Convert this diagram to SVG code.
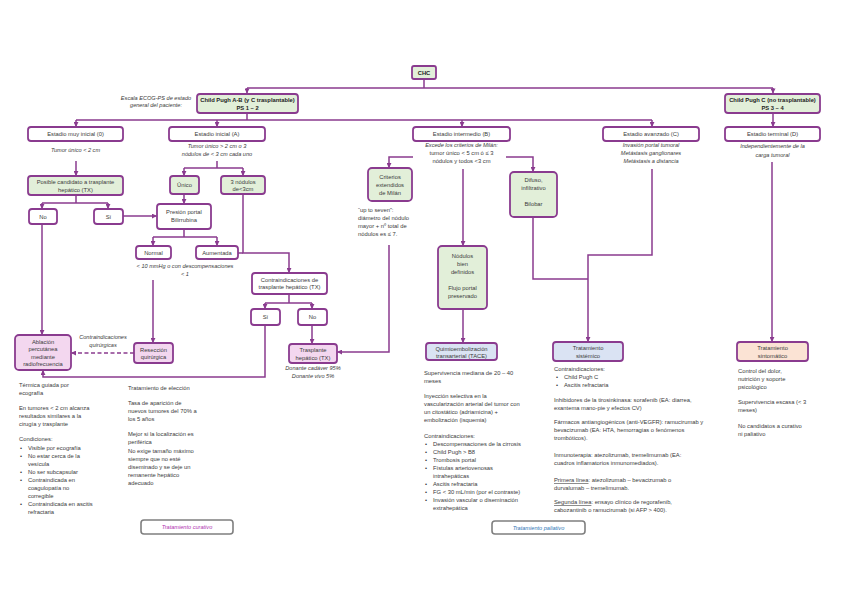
<svg xmlns="http://www.w3.org/2000/svg" width="848" height="599" viewBox="0 0 848 599">
<style>
text{font-family:"Liberation Sans",Arial,sans-serif;fill:#3a3a3a;}
.b{fill:#fff;stroke:#8a3b8f;stroke-width:1.8;}
.g{fill:#e2efd9;stroke:#8a3b8f;stroke-width:1.8;}
.p{fill:#f3d7ef;stroke:#8a3b8f;stroke-width:1.8;}
.bl{fill:#dae3f3;stroke:#8a3b8f;stroke-width:1.8;}
.o{fill:#fbe3d4;stroke:#8a3b8f;stroke-width:1.8;}
.t{font-size:5.8px;text-anchor:middle;}
.tb{font-size:5.8px;text-anchor:middle;font-weight:bold;fill:#222;}
.i{font-size:5.6px;text-anchor:middle;font-style:italic;}
.x{font-size:5.8px;}
.c{fill:none;stroke:#8a3b8f;stroke-width:1.5;}
.a{marker-end:url(#ah);}
.d{stroke-dasharray:4 2.5;}
.lg{fill:#fff;stroke:#7f7f7f;stroke-width:1.6;}
</style>
<defs>
<marker id="ah" viewBox="0 0 6 6" refX="5.5" refY="3" markerWidth="5" markerHeight="5" markerUnits="userSpaceOnUse" orient="auto"><path d="M0,0 L6,3 L0,6 z" fill="#8a3b8f"/></marker>
</defs>
<rect width="848" height="599" fill="#fff"/>
<g id="connectors">
<path class="c" d="M424,79 V88 M247,88 H773"/>
<path class="c a" d="M247,88 V93"/>
<path class="c a" d="M773,88 V93"/>
<path class="c" d="M247,113 V120 M76,120 H652"/>
<path class="c a" d="M76,120 V126.5"/>
<path class="c a" d="M217,120 V126.5"/>
<path class="c a" d="M462,120 V126.5"/>
<path class="c a" d="M652,120 V126.5"/>
<path class="c a" d="M773,113 V126.5"/>
<path class="c a" d="M76,161 V175.5"/>
<path class="c" d="M76,195 V203 M42,203 H108"/>
<path class="c a" d="M42,203 V208.5"/>
<path class="c a" d="M108,203 V208.5"/>
<path class="c a" d="M123,216 H156.5"/>
<path class="c" d="M217,161 V168 M184,168 H243"/>
<path class="c a" d="M184,168 V175.5"/>
<path class="c a" d="M243,168 V175.5"/>
<path class="c a" d="M184,194 V203.5"/>
<path class="c" d="M184,229 V237 M153,237 H217"/>
<path class="c a" d="M153,237 V245.5"/>
<path class="c a" d="M217,237 V245.5"/>
<path class="c a" d="M153,280 V342.5"/>
<path class="c" d="M238,253 H243"/>
<path class="c a" d="M243,194 V253 H289 V272.5"/>
<path class="c" d="M289,294 V303 M265,303 H312"/>
<path class="c a" d="M265,303 V308.5"/>
<path class="c a" d="M312,303 V308.5"/>
<path class="c a" d="M312,325 V343.5"/>
<path class="c a" d="M265,325 V377 H43 V370.5"/>
<path class="c a" d="M42,224 V334.5"/>
<path class="c a d" d="M134,353 H71.5"/>
<path class="c a" d="M413,157 H389 V167.5"/>
<path class="c a" d="M463,169 V245.5"/>
<path class="c a" d="M506,157 H533 V171.5"/>
<path class="c a" d="M389,245 V352 H337.5"/>
<path class="c a" d="M463,309 V342.5"/>
<path class="c" d="M533,217 V279 H588"/>
<path class="c a" d="M652,169 V255 H588 V341.5"/>
<path class="c a" d="M772,162 V341.5"/>
</g>
<g id="chc"><rect class="g" x="412" y="66" width="24" height="13" rx="2"/><text class="tb" x="424" y="74.8">CHC</text></g>
<g id="cpab"><rect class="g" x="197" y="94" width="101" height="19" rx="3"/><text class="tb" x="247.5" y="102">Child Pugh A-B (y C trasplantable)</text><text class="tb" x="247.5" y="109.5">PS 1 – 2</text></g>
<g id="ecog"><text class="i" x="156" y="100">Escala ECOG-PS de estado</text><text class="i" x="156" y="107">general del paciente:</text></g>
<g id="cpc"><rect class="g" x="725" y="94" width="95" height="19" rx="3"/><text class="tb" x="772.5" y="102">Child Pugh C (no trasplantable)</text><text class="tb" x="772.5" y="109.5">PS 3 – 4</text></g>
<g id="e0"><rect class="b" x="28" y="127" width="95" height="14" rx="3"/><text class="t" x="75.5" y="136">Estadio muy inicial (0)</text><text class="i" x="75.5" y="152">Tumor único &lt; 2 cm</text></g>
<g id="ea"><rect class="b" x="169" y="127" width="96" height="14" rx="3"/><text class="t" x="217" y="136">Estadio inicial (A)</text><text class="i" x="217" y="147.5">Tumor único &gt; 2 cm o 3</text><text class="i" x="217" y="155.5">nódulos de &lt; 3 cm cada uno</text></g>
<g id="eb"><rect class="b" x="413" y="127" width="97" height="14" rx="3"/><text class="t" x="461.5" y="136">Estadio intermedio (B)</text><text class="i" x="461.5" y="147">Excede los criterios de Milán:</text><text class="t" x="461.5" y="155">tumor único &lt; 5 cm ó ≤ 3</text><text class="t" x="461.5" y="163">nódulos y todos &lt;3 cm</text></g>
<g id="ec"><rect class="b" x="603" y="127" width="96" height="14" rx="3"/><text class="t" x="651" y="136">Estadio avanzado (C)</text><text class="i" x="651" y="147">Invasión portal tumoral</text><text class="i" x="651" y="155">Metástasis ganglionares</text><text class="i" x="651" y="163">Metástasis a distancia</text></g>
<g id="ed"><rect class="b" x="725" y="127" width="95" height="14" rx="3"/><text class="t" x="772.5" y="136">Estadio terminal (D)</text><text class="i" x="772.5" y="148">Independientemente de la</text><text class="i" x="772.5" y="156.5">carga tumoral</text></g>
<g id="candidato"><rect class="g" x="28" y="176" width="95" height="19" rx="3"/><text class="t" x="75.5" y="184">Posible candidato a trasplante</text><text class="t" x="75.5" y="191.5">hepático (TX)</text></g>
<g id="no1"><rect class="b" x="29" y="209" width="28" height="15" rx="3"/><text class="t" x="43" y="218.5">No</text></g>
<g id="si1"><rect class="b" x="94" y="209" width="29" height="15" rx="3"/><text class="t" x="108.5" y="218.5">Sí</text></g>
<g id="unico"><rect class="g" x="170" y="176" width="29" height="18" rx="3"/><text class="t" x="184.5" y="187">Único</text></g>
<g id="tres"><rect class="g" x="221" y="176" width="44" height="18" rx="3"/><text class="t" x="243" y="183.5">3 nódulos</text><text class="t" x="243" y="191">de&lt;3cm</text></g>
<g id="presion"><rect class="b" x="157" y="204" width="54" height="25" rx="3"/><text class="t" x="184" y="214">Presión portal</text><text class="t" x="184" y="222">Bilirrubina</text></g>
<g id="normal"><rect class="b" x="136" y="246" width="35" height="13" rx="3"/><text class="t" x="153.5" y="254.5">Normal</text></g>
<g id="aumentada"><rect class="b" x="196" y="246" width="42" height="13" rx="3"/><text class="t" x="217" y="254.5">Aumentada</text></g>
<g id="normalnote"><text class="i" x="185" y="268">&lt; 10 mmHg o con descompensaciones</text><text class="i" x="185" y="276">&lt; 1</text></g>
<g id="contratx"><rect class="b" x="252" y="273" width="75" height="21" rx="3"/><text class="t" x="289.5" y="281.5">Contraindicaciones de</text><text class="t" x="289.5" y="289">trasplante hepático (TX)</text></g>
<g id="si2"><rect class="b" x="251" y="309" width="29" height="16" rx="3"/><text class="t" x="265.5" y="319">Sí</text></g>
<g id="no2"><rect class="b" x="298" y="309" width="29" height="16" rx="3"/><text class="t" x="312.5" y="319">No</text></g>
<g id="trasplante"><rect class="p" x="289" y="344" width="48" height="19" rx="3"/><text class="t" x="313" y="352">Trasplante</text><text class="t" x="313" y="359.5">hepático (TX)</text><text class="i" x="313" y="370">Donante cadáver 95%</text><text class="i" x="313" y="378">Donante vivo 5%</text></g>
<g id="reseccion"><rect class="p" x="134" y="343" width="39" height="20" rx="3"/><text class="t" x="153.5" y="351.5">Resección</text><text class="t" x="153.5" y="359">quirúrgica</text></g>
<g id="ablacion"><rect class="p" x="15" y="335" width="56" height="35" rx="4"/><text class="t" x="43" y="343.5">Ablación</text><text class="t" x="43" y="351">percutánea</text><text class="t" x="43" y="358.5">mediante</text><text class="t" x="43" y="366">radiofrecuencia</text></g>
<g id="contraq"><text class="i" x="103" y="339">Contraindicaciones</text><text class="i" x="103" y="347">quirúrgicas</text></g>
<g id="criterios"><rect class="g" x="368" y="168" width="44" height="33" rx="4"/><text class="t" x="390" y="179">Criterios</text><text class="t" x="390" y="187">extendidos</text><text class="t" x="390" y="195">de Milán</text></g>
<g id="uptoseven"><text class="x" x="358" y="212">“up to seven”:</text><text class="x" x="358" y="220">diámetro del nódulo</text><text class="x" x="358" y="228">mayor + nº total de</text><text class="x" x="358" y="236">nódulos es ≤ 7.</text></g>
<g id="difuso"><rect class="g" x="510" y="172" width="47" height="45" rx="4"/><text class="t" x="533.5" y="182">Difuso,</text><text class="t" x="533.5" y="190">infiltrativo</text><text class="t" x="533.5" y="206">Bilobar</text></g>
<g id="nodulos"><rect class="g" x="438" y="246" width="49" height="63" rx="4"/><text class="t" x="462.5" y="258">Nódulos</text><text class="t" x="462.5" y="266">bien</text><text class="t" x="462.5" y="274">definidos</text><text class="t" x="462.5" y="290">Flujo portal</text><text class="t" x="462.5" y="298">preservado</text></g>
<g id="tace"><rect class="bl" x="426" y="343" width="71" height="17" rx="3"/><text class="t" x="461.5" y="350.5">Quimioembolización</text><text class="t" x="461.5" y="357.5">transarterial (TACE)</text></g>
<g id="sistemico"><rect class="bl" x="553" y="342" width="70" height="19" rx="3"/><text class="t" x="588" y="350">Tratamiento</text><text class="t" x="588" y="357.5">sistémico</text></g>
<g id="sintomatico"><rect class="o" x="737" y="342" width="71" height="19" rx="3"/><text class="t" x="772.5" y="350">Tratamiento</text><text class="t" x="772.5" y="357.5">sintomático</text></g>
<g id="col1" class="x">
<text class="x" x="19" y="387">Térmica guiada por</text>
<text class="x" x="19" y="395">ecografía</text>
<text class="x" x="19" y="410">En tumores &lt; 2 cm alcanza</text>
<text class="x" x="19" y="418">resultados similares a la</text>
<text class="x" x="19" y="426">cirugía y trasplante</text>
<text class="x" x="19" y="441">Condiciones:</text>
<text class="x" x="20" y="450">•</text><text class="x" x="28" y="450">Visible por ecografía</text>
<text class="x" x="20" y="458">•</text><text class="x" x="28" y="458">No estar cerca de la</text>
<text class="x" x="28" y="466">vesícula</text>
<text class="x" x="20" y="474">•</text><text class="x" x="28" y="474">No ser subcapsular</text>
<text class="x" x="20" y="482">•</text><text class="x" x="28" y="482">Contraindicada en</text>
<text class="x" x="28" y="490">coagulopatía no</text>
<text class="x" x="28" y="498">corregible</text>
<text class="x" x="20" y="506">•</text><text class="x" x="28" y="506">Contraindicada en ascitis</text>
<text class="x" x="28" y="514">refractaria</text>
</g>
<g id="col2">
<text class="x" x="128" y="390">Tratamiento de elección</text>
<text class="x" x="128" y="405">Tasa de aparición de</text>
<text class="x" x="128" y="413">nuevos tumores del 70% a</text>
<text class="x" x="128" y="421">los 5 años</text>
<text class="x" x="128" y="436">Mejor si la localización es</text>
<text class="x" x="128" y="444">periférica</text>
<text class="x" x="128" y="453">No exige tamaño máximo</text>
<text class="x" x="128" y="461">siempre que no esté</text>
<text class="x" x="128" y="469">diseminado y se deje un</text>
<text class="x" x="128" y="477">remanente hepático</text>
<text class="x" x="128" y="485">adecuado</text>
</g>
<g id="col3">
<text class="x" x="424" y="375">Supervivencia mediana de 20 – 40</text>
<text class="x" x="424" y="383">meses</text>
<text class="x" x="424" y="398">Inyección selectiva en la</text>
<text class="x" x="424" y="406">vascularización arterial del tumor con</text>
<text class="x" x="424" y="414">un citostático (adriamicina) +</text>
<text class="x" x="424" y="422">embolización (isquemia)</text>
<text class="x" x="424" y="438">Contraindicaciones:</text>
<text class="x" x="425" y="446">•</text><text class="x" x="433" y="446">Descompensaciones de la cirrosis</text>
<text class="x" x="425" y="454">•</text><text class="x" x="433" y="454">Child Pugh &gt; B8</text>
<text class="x" x="425" y="462">•</text><text class="x" x="433" y="462">Trombosis portal</text>
<text class="x" x="425" y="470">•</text><text class="x" x="433" y="470">Fístulas arteriovenosas</text>
<text class="x" x="433" y="478">intrahepáticas</text>
<text class="x" x="425" y="486">•</text><text class="x" x="433" y="486">Ascitis refractaria</text>
<text class="x" x="425" y="494">•</text><text class="x" x="433" y="494">FG &lt; 30 mL/min (por el contraste)</text>
<text class="x" x="425" y="502">•</text><text class="x" x="433" y="502">Invasión vascular o diseminación</text>
<text class="x" x="433" y="510">extrahepática</text>
</g>
<g id="col4">
<text class="x" x="554" y="371">Contraindicaciones:</text>
<text class="x" x="556" y="379">•</text><text class="x" x="564" y="379">Child Pugh C</text>
<text class="x" x="556" y="387">•</text><text class="x" x="564" y="387">Ascitis refractaria</text>
<text class="x" x="554" y="402">Inhibidores de la tirosinkinasa: sorafenib (EA: diarrea,</text>
<text class="x" x="554" y="410">exantema mano-pie y efectos CV)</text>
<text class="x" x="554" y="424">Fármacos antiangiogénicos (anti-VEGFR): ramucirumab y</text>
<text class="x" x="554" y="432">bevacizumab (EA: HTA, hemorragias o fenómenos</text>
<text class="x" x="554" y="440">trombóticos).</text>
<text class="x" x="554" y="457">Inmunoterapia: atezolizumab, tremelimumab (EA:</text>
<text class="x" x="554" y="465">cuadros inflamatorios inmunomediados).</text>
<text class="x" x="554" y="482"><tspan text-decoration="underline">Primera línea</tspan>: atezolizumab – bevacizumab o</text>
<text class="x" x="554" y="490">durvalumab – tremelimumab.</text>
<text class="x" x="554" y="504"><tspan text-decoration="underline">Segunda línea</tspan>: ensayo clínico de regorafenib,</text>
<text class="x" x="554" y="512">cabozantinib o ramucirumab (si AFP &gt; 400).</text>
</g>
<g id="col5">
<text class="x" x="738" y="373">Control del dolor,</text>
<text class="x" x="738" y="381">nutrición y soporte</text>
<text class="x" x="738" y="389">psicológico</text>
<text class="x" x="738" y="404">Supervivencia escasa (&lt; 3</text>
<text class="x" x="738" y="412">meses)</text>
<text class="x" x="738" y="428">No candidatos a curativo</text>
<text class="x" x="738" y="436">ni paliativo</text>
</g>
<g id="curativo"><rect class="lg" x="141" y="520" width="92" height="14" rx="3"/><text class="i" x="187" y="529" style="fill:#b02fb0">Tratamiento curativo</text></g>
<g id="paliativo"><rect class="lg" x="492" y="521" width="93" height="13" rx="3"/><text class="i" x="538.5" y="529.8" style="fill:#2e75b6">Tratamiento paliativo</text></g>
</svg>
